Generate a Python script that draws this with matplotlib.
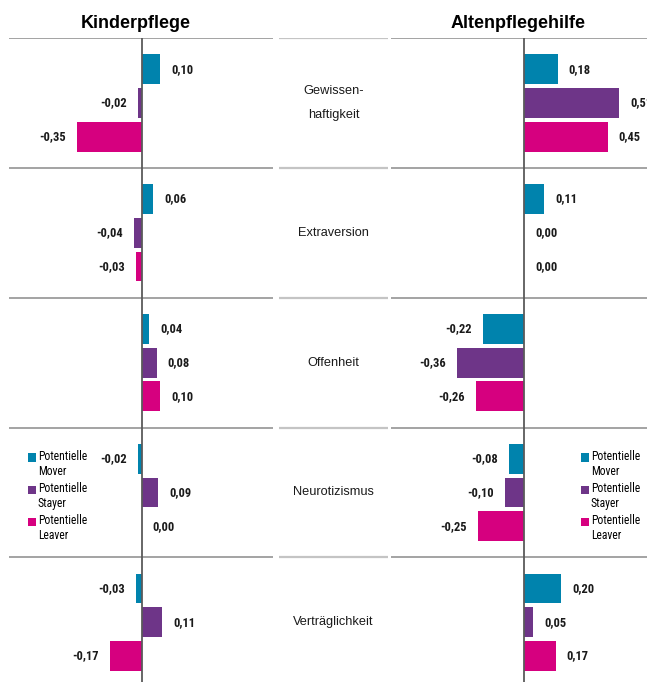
import matplotlib.pyplot as plt
from matplotlib import font_manager as fm
from matplotlib.patches import Patch, Rectangle
from matplotlib.legend_handler import HandlerPatch

# data
traits = ["Gewissen-\nhaftigkeit", "Extraversion", "Offenheit", "Neurotizismus", "Verträglichkeit"]
groups = ["Potentielle\nMover", "Potentielle\nStayer", "Potentielle\nLeaver"]
kinder_mover = [0.10, 0.06, 0.04, -0.02, -0.03]
kinder_stayer = [-0.02, -0.04, 0.08, 0.09, 0.11]
kinder_leaver = [-0.35, -0.03, 0.10, 0.00, -0.17]
alten_mover = [0.18, 0.11, -0.22, -0.08, 0.20]
alten_stayer = [0.51, 0.00, -0.36, -0.10, 0.05]
alten_leaver = [0.45, 0.00, -0.26, -0.25, 0.17]

colors = ["#0083AD", "#6E3588", "#D6007F"]
W, H = 647, 682
SANS = ["Liberation Sans", "DejaVu Sans"]

# the source uses a narrow face for labels; fall back to plain Arial metrics, a bit smaller
installed = {f.name for f in fm.fontManager.ttflist}
narrow = next((n for n in ["Liberation Sans Narrow", "Arial Narrow", "Roboto Condensed"]
               if n in installed), None)
if narrow:
  NARROW, SCALE = [narrow, "DejaVu Sans"], 1.0
else:
  NARROW, SCALE = SANS, 0.86


def px_axes(fig, x0, x1):
  # axes spanning x0..x1 pixels, from y=38px down to the bottom
  return fig.add_axes([x0 / W, 0, (x1 - x0) / W, (H - 38) / H])


def fmt(v):
  return f"{v:.2f}".replace(".", ",")


def top_square(legend, orig_handle, xdescent, ydescent, width, height, fontsize):
  # square next to the first line of a two-line label
  s = 0.72 * fontsize
  return Rectangle((-xdescent, -ydescent + height - s + 0.25 * fontsize), s, s)


def draw_panel(ax, series, xlim, title):
  offsets = [-0.26, 0.0, 0.26]
  for vals, off, c in zip(series, offsets, colors):
    ys = [i + off for i in range(len(vals))]
    ax.barh(ys, vals, height=0.23, color=c, zorder=2)
    for y, v in zip(ys, vals):
      neg = v < 0
      ax.annotate(fmt(v), (v, y), xytext=(-8 if neg else 8, 0),
                  textcoords="offset points", ha="right" if neg else "left",
                  va="center", fontsize=9 * SCALE, fontweight="bold", family=NARROW,
                  color="#1a1a1a", annotation_clip=False)
  for b in [-0.5, 0.5, 1.5, 2.5, 3.5]:
    ax.axhline(b, color="#8a8a8a", lw=1.1, zorder=1)
  ax.axvline(0, color="#5a5a5a", lw=1.3, zorder=3)
  ax.set_xlim(*xlim)
  ax.set_ylim(4.46, -0.5)
  ax.axis("off")
  ax.text(-0.03, -0.615, title, ha="center", va="center", fontsize=13,
          fontweight="bold", family=SANS)


fig = plt.figure(figsize=(W / 100, H / 100), dpi=100)

ax_l = px_axes(fig, 9, 273)
draw_panel(ax_l, [kinder_mover, kinder_stayer, kinder_leaver], (-0.713, 0.706), "Kinderpflege")

ax_r = px_axes(fig, 391, 647)
draw_panel(ax_r, [alten_mover, alten_stayer, alten_leaver], (-0.715, 0.661), "Altenpflegehilfe")

ax_m = px_axes(fig, 279, 388)
for b in [-0.5, 0.5, 1.5, 2.5, 3.5]:
  ax_m.axhline(b, color="#c4c4c4", lw=1.6)
for i, t in enumerate(traits):
  ax_m.text(0.5, i, t, ha="center", va="center", fontsize=9.2, family=SANS,
            color="#1a1a1a", linespacing=2.3)
ax_m.set_xlim(0, 1)
ax_m.set_ylim(4.46, -0.5)
ax_m.axis("off")

handles = [Patch(facecolor=c, label=g) for c, g in zip(colors, groups)]
for x, y in [(28, 450), (581, 450)]:
  fig.legend(handles=handles, loc="upper left", bbox_to_anchor=(x / W, 1 - y / H),
             frameon=False, borderpad=0, borderaxespad=0, handlelength=0.72,
             handleheight=2.0, handletextpad=0.12, labelspacing=0.36,
             handler_map={Patch: HandlerPatch(patch_func=top_square)},
             prop={"family": NARROW, "size": 8.4 * SCALE})

fig.savefig("out.png", dpi=100)
